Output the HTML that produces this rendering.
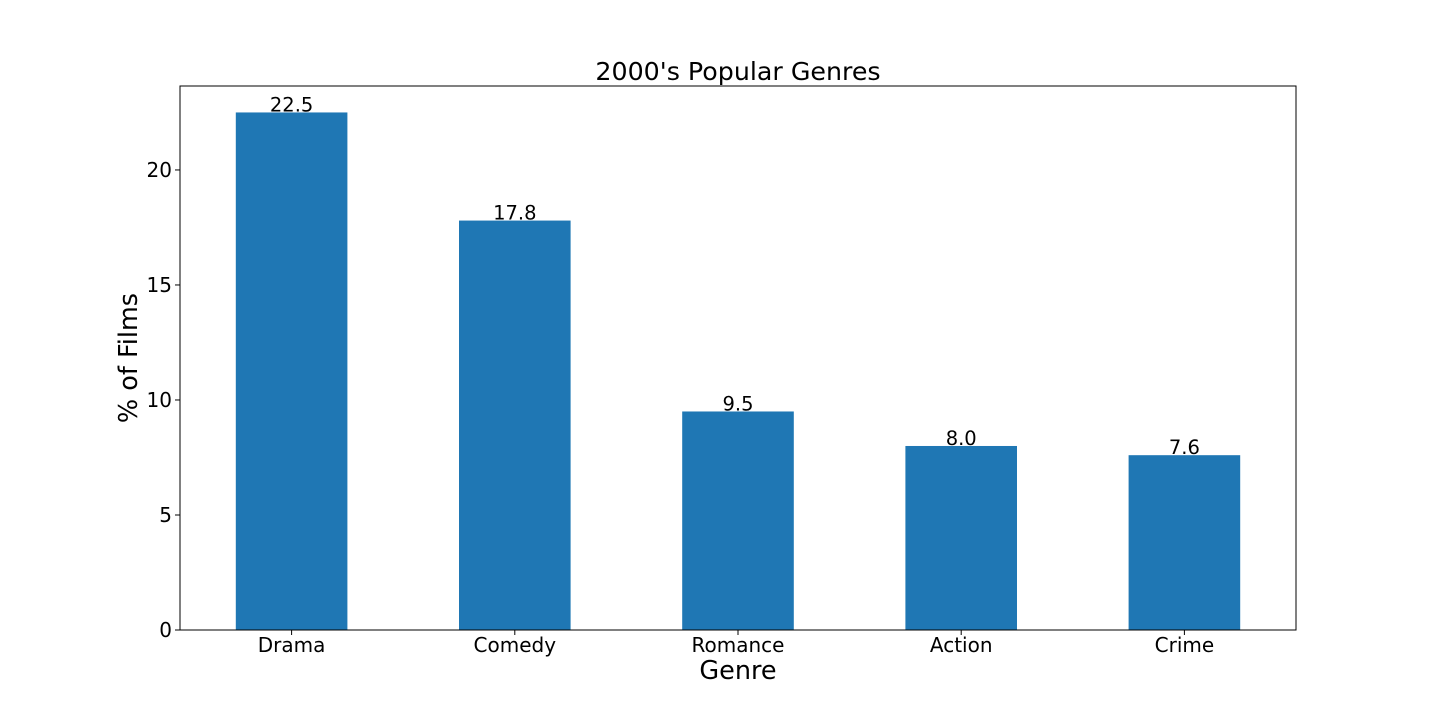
<!DOCTYPE html>
<html><head><meta charset="utf-8"><style>
body{margin:0;background:#fff;}
svg text{font-family:"DejaVu Sans","Liberation Sans",sans-serif;fill:#000;}
</style></head><body>
<svg width="1440" height="720" xmlns="http://www.w3.org/2000/svg">
<g id="plot"></g>
</svg>
<script>
const categories=["Drama","Comedy","Romance","Action","Crime"];
const values=[22.5,17.8,9.5,8.0,7.6];
const valueLabels=["22.5","17.8","9.5","8.0","7.6"];
const yTicks=[0,5,10,15,20];
const L=180,R=1296,T=86,B=630,yMax=23.65;
const g=document.getElementById('plot');
const ns="http://www.w3.org/2000/svg";
const y=v=>B-(v/yMax)*(B-T);
const step=(R-L)/categories.length;
const x=i=>L+step*(i+0.5);
function mk(t,a){const e=document.createElementNS(ns,t);for(const k in a)e.setAttribute(k,a[k]);g.appendChild(e);return e;}
categories.forEach((c,i)=>{
 const bw=step*0.5;
 const r=mk('rect',{x:x(i)-bw/2,y:y(values[i]),width:bw,height:B-y(values[i]),fill:'#1f77b4'});
 
 
 const t=mk('text',{x:x(i),y:y(values[i])-1,'text-anchor':'middle','font-size':19.5});
 t.textContent=valueLabels[i];
 
 
 mk('line',{x1:x(i),x2:x(i),y1:B,y2:B+5,stroke:'#000','stroke-width':1});
 const xl=mk('text',{x:x(i),y:B+22,'text-anchor':'middle','font-size':20});
 xl.textContent=c;
 
 
});
yTicks.forEach(v=>{
 mk('line',{x1:L-5,x2:L,y1:y(v),y2:y(v),stroke:'#000','stroke-width':1});
 const t=mk('text',{x:L-8,y:y(v)+7,'text-anchor':'end','font-size':20});
 t.textContent=v;
 
 
});
const fr=mk('rect',{x:L,y:T,width:R-L,height:B-T,fill:'none',stroke:'#000','stroke-width':1});


const tt=mk('text',{x:(L+R)/2,y:80,'text-anchor':'middle','font-size':25.3});
tt.textContent="2000's Popular Genres";


const xt=mk('text',{x:(L+R)/2,y:679,'text-anchor':'middle','font-size':25.5});
xt.textContent="Genre";


const yt=mk('text',{x:0,y:0,'text-anchor':'middle','font-size':25.5,transform:'translate(137,358) rotate(-90)'});
yt.textContent="% of Films";


</script>
</body></html>
